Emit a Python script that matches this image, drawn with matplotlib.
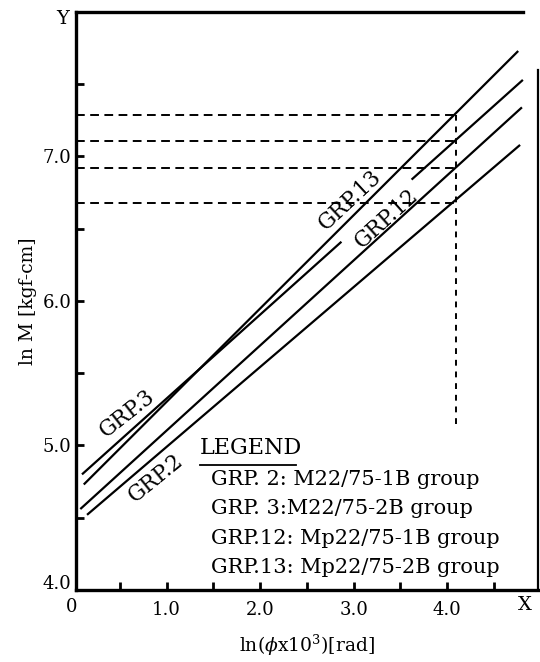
import numpy as np
import matplotlib
matplotlib.use('Agg')
import matplotlib.pyplot as plt
from matplotlib.transforms import ScaledTranslation

plt.rcParams['font.family'] = 'DejaVu Serif'
plt.rcParams['mathtext.fontset'] = 'dejavuserif'

# straight fitted lines (ln phi, ln M)
line_x = [
    [0.115, 4.76],
    [0.096, 2.87, np.nan, 3.62, 4.81],   # broken where the GRP.12 label sits
    [0.078, 4.80],
    [0.15, 4.78],
]
line_y = [
    [4.73, 7.73],
    [4.80, 6.41, np.nan, 6.84, 7.53],
    [4.56, 7.34],
    [4.52, 7.08],
]

# dashed read-off lines at ln(phi x 10^3) = 4.09
read_x = 4.09
read_y = [7.29, 7.11, 6.92, 6.68]
read_y_low = 5.15

# on-plot labels: text, x, y, angle
curve_labels = ['GRP.13', 'GRP.12', 'GRP.3', 'GRP.2']
curve_label_x = [2.96, 3.35, 0.58, 0.88]
curve_label_y = [6.70, 6.57, 5.22, 4.77]
curve_label_rot = [43, 42, 38, 39]

legend_lines = [
    'GRP. 2: M22/75-1B group',
    'GRP. 3:M22/75-2B group',
    'GRP.12: Mp22/75-1B group',
    'GRP.13: Mp22/75-2B group',
]

x_ticks = [1.0, 2.0, 3.0, 4.0]
x_minor = [0.5, 1.5, 2.5, 3.5, 4.5]
y_ticks = [4.0, 5.0, 6.0, 7.0]
y_minor = [4.5, 5.5, 6.5, 7.5]

fig = plt.figure(figsize=(5.4, 6.62), dpi=100)
ax = fig.add_axes([0.1404, 0.1088, 0.8556, 0.8731])

for xs, ys in zip(line_x, line_y):
    ax.plot(xs, ys, color='black', lw=1.6, solid_capstyle='butt')

# dashed guides
for yv in read_y:
    ax.plot([0.03, read_x], [yv, yv], color='black', lw=1.4, dashes=(4.5, 2.8))
ax.plot([read_x, read_x], [read_y_low, max(read_y)], color='black', lw=1.4, dashes=(3, 3))

for txt, xv, yv, rot in zip(curve_labels, curve_label_x, curve_label_y, curve_label_rot):
    ax.text(xv, yv, txt, rotation=rot, ha='center', va='center',
            fontsize=15.5, rotation_mode='anchor')

# legend block written as text
ax.text(1.36, 4.985, 'LEGEND', fontsize=16, ha='left', va='center')
ax.plot([1.36, 2.38], [4.865, 4.865], color='black', lw=1.3)
for i, txt in enumerate(legend_lines):
    ax.text(1.48, 4.765 - i * 0.203, txt, fontsize=15, ha='left', va='center')

ax.set_xlim(0.03, 4.97)
ax.set_ylim(4.0, 8.0)

ax.set_xticks(x_ticks)
ax.set_xticklabels(['1.0', '2.0', '3.0', '4.0'])
ax.set_xticks(x_minor, minor=True)
ax.set_yticks(y_ticks)
ax.set_yticklabels(['4.0', '5.0', '6.0', '7.0'])
ax.set_yticks(y_minor, minor=True)
ax.tick_params(which='both', direction='in', length=6, width=2, labelsize=13)
ax.tick_params(axis='x', which='both', pad=8)
ax.tick_params(axis='y', which='both', pad=3)

# the 4.0 label sits a little above the corner in the original
lab = ax.get_yticklabels()[0]
lab.set_transform(lab.get_transform() + ScaledTranslation(0, 6 / 72, fig.dpi_scale_trans))

ax.text(-0.02, -0.03, '0', transform=ax.get_xaxis_transform(), ha='center',
        va='center', fontsize=13, clip_on=False)
ax.text(4.83, -0.026, 'X', transform=ax.get_xaxis_transform(), ha='center',
        va='center', fontsize=14, clip_on=False)
ax.text(-0.11, 7.95, 'Y', ha='center', va='center', fontsize=14, clip_on=False)

for side in ['left', 'bottom', 'top']:
    ax.spines[side].set_linewidth(2.4)
ax.spines['right'].set_linewidth(1.6)
ax.spines['top'].set_bounds(0.03, 4.81)
ax.spines['right'].set_bounds(4.0, 7.6)

ax.set_xlabel(r'ln($\phi$x10$^3$)[rad]', fontsize=13.5, labelpad=10)
ax.set_ylabel('ln M [kgf-cm]', fontsize=13.5, labelpad=4)

fig.savefig('out.png', dpi=100)
